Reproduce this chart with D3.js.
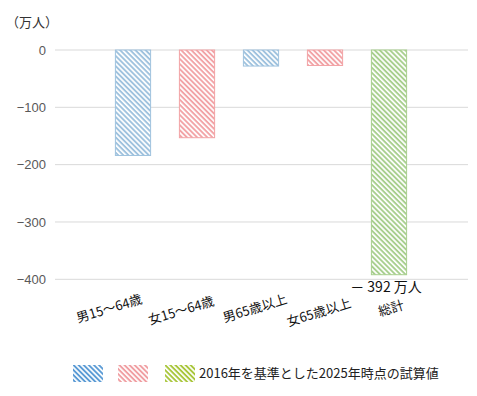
<!DOCTYPE html>
<html>
<head>
<meta charset="utf-8">
<script src="https://cdn.jsdelivr.net/npm/d3@7"></script>
<style>
  body { margin: 0; background: #fff; }
  text { font-family: "Noto Sans CJK JP", "Noto Sans", sans-serif; }
</style>
</head>
<body>
<div id="chart"></div>
<script>
const categories = ['男15～64歳', '女15～64歳', '男65歳以上', '女65歳以上', '総計'];
const values = [-184, -153, -28, -27, -392];
const yTicks = [0, -100, -200, -300, -400];
const totalLabel = '－ 392 万人';
const unitLabel = '（万人）';
const legendText = '2016年を基準とした2025年時点の試算値';

drawChart('chart');

function drawChart(id) {
  const width = 477
  const height = 396
  const barColors = ['#9fc2de', '#f2a3a6', '#a8cf8e']
  const legendColors = ['#5b9bd5', '#f09fa3', '#a9c63c']

  const svg = d3.select('#' + id).append('svg')
    .attr('width', width).attr('height', height);

  // stripe patterns, "\" direction
  const defs = svg.append('defs');
  function stripe(name, color) {
    const p = defs.append('pattern')
      .attr('id', name)
      .attr('patternUnits', 'userSpaceOnUse')
      .attr('width', 3.6).attr('height', 3.6)
      .attr('patternTransform', 'rotate(45)');
    p.append('rect').attr('width', 3.6).attr('height', 3.6).attr('fill', '#fff');
    p.append('rect').attr('width', 3.6).attr('height', 1.9).attr('fill', color);
  }
  barColors.forEach((c, i) => stripe('bar' + i, c));
  legendColors.forEach((c, i) => stripe('leg' + i, c));

  const y = d3.scaleLinear().domain([0, -400]).range([50, 279.3]);
  const x = d3.scaleBand().domain(categories).range([101, 421]).paddingInner(0.45).paddingOuter(0.225);

  // gridlines
  svg.append('g').attr('class', 'grid')
    .selectAll('line').data(yTicks).enter().append('line')
    .attr('x1', 55).attr('x2', 468)
    .attr('y1', d => y(d)).attr('y2', d => y(d))
    .attr('stroke', '#d9d9d9').attr('stroke-width', 1);

  // y axis labels
  const yAxis = d3.axisLeft(y).tickValues(yTicks).tickSize(0).tickPadding(0)
    .tickFormat(d => d3.format('')(d).replace('-', '−'));
  const gy = svg.append('g').attr('transform', 'translate(46,0)').call(yAxis);
  gy.select('.domain').remove();
  gy.selectAll('text').attr('fill', '#595959').style('font-size', '13px')
    .style('font-family', '"Liberation Sans", Arial, sans-serif');

  svg.append('text').attr('x', 6).attr('y', 27).text(unitLabel)
    .attr('fill', '#333').style('font-size', '13px');

  // bars
  const colorIdx = [0, 1, 0, 1, 2];
  svg.append('g').selectAll('rect').data(values).enter().append('rect')
    .attr('x', (d, i) => x(categories[i]))
    .attr('y', y(0))
    .attr('width', x.bandwidth())
    .attr('height', d => y(d) - y(0))
    .attr('fill', (d, i) => 'url(#bar' + colorIdx[i] + ')')
    .attr('stroke', (d, i) => barColors[colorIdx[i]])
    .attr('stroke-width', 1);

  // category labels (hand-placed in the original, so nudge each one)
  const labelDx = [10, 18, 27, 27, 16];
  const labelY = [303, 305, 303, 307, 309];
  svg.append('g').selectAll('text').data(categories).enter().append('text')
    .attr('text-anchor', 'end')
    .attr('transform', (d, i) => 'translate(' + (x(d) + x.bandwidth() / 2 + labelDx[i]) + ',' + labelY[i] + ') rotate(-17)')
    .attr('fill', '#111')
    .style('font-size', '13px')
    .text(d => d);

  // total label
  svg.append('text')
    .attr('x', x('総計') + x.bandwidth() / 2 - 3)
    .attr('y', 292)
    .attr('text-anchor', 'middle')
    .attr('fill', '#111')
    .style('font-size', '14px')
    .text(totalLabel);

  // legend
  const lg = svg.append('g');
  [73, 118, 165].forEach((lx, i) => {
    lg.append('rect').attr('x', lx).attr('y', 365).attr('width', 30).attr('height', 17)
      .attr('fill', 'url(#leg' + i + ')');
  });
  lg.append('text').attr('x', 199).attr('y', 378).text(legendText)
    .attr('fill', '#222').style('font-size', '13px');
}
</script>
</body>
</html>
